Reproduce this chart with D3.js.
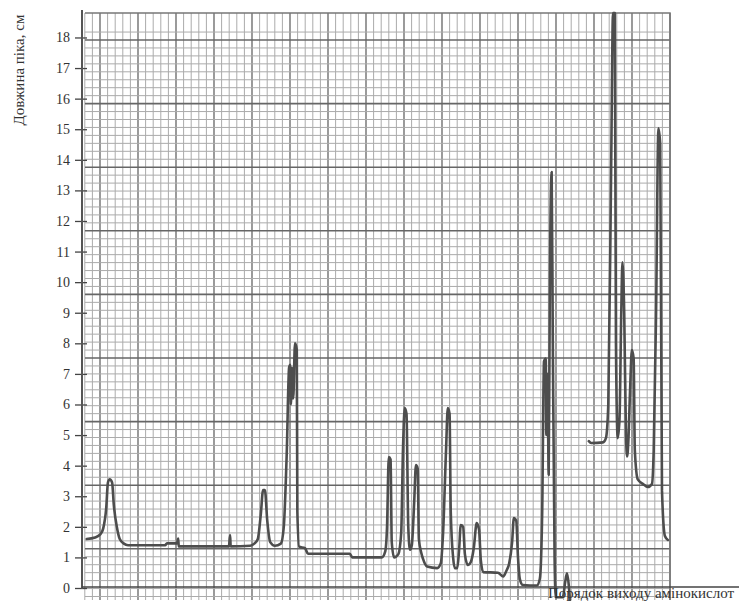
<!DOCTYPE html>
<html>
<head>
<meta charset="utf-8">
<script src="https://cdn.jsdelivr.net/npm/d3@7"></script>
<style>
	html, body { margin: 0; padding: 0; background: #fff; }
	svg { display: block; }
</style>
</head>
<body>
<div id="chart"></div>
<script>
// trace: x is position along the strip (0-100), y is peak height in cm
const traceOneX = [0.8, 2.2, 3.1, 3.6, 4.1, 4.4, 4.7, 5.1, 5.4, 5.9, 6.4, 7.1, 7.8, 14.1, 14.4, 16.1, 16.3, 16.4, 24.9, 25.1, 25.2, 28.5, 29.2, 29.8, 30.3, 30.7, 31.0, 31.4, 31.9, 32.7, 33.7, 34.2, 34.7, 35.1, 35.3, 35.4, 35.6, 35.8, 36.1, 36.4, 36.5, 36.8, 37.8, 38.3, 45.4, 45.8, 50.8, 51.4, 51.7, 52.0, 52.3, 52.5, 52.9, 53.6, 54.1, 54.4, 54.7, 55.0, 55.3, 55.6, 55.9, 56.3, 56.6, 56.9, 57.1, 57.5, 57.8, 58.5, 60.2, 60.8, 61.2, 61.7, 62.0, 62.3, 62.5, 62.9, 63.2, 63.6, 63.9, 64.2, 64.6, 64.9, 65.4, 65.9, 66.4, 66.9, 67.3, 67.6, 68.0, 70.5, 71.4, 71.9, 72.4, 72.9, 73.2, 73.6, 73.9, 74.2, 74.7, 77.1, 77.6, 78.0, 78.3, 78.6, 78.7, 78.9, 79.1, 79.3, 79.6, 79.8, 80.1, 80.3, 81.5, 81.9, 82.2, 82.5, 82.7];
const traceOneY = [1.6, 1.65, 1.75, 1.95, 2.6, 3.45, 3.55, 3.45, 2.7, 2.0, 1.6, 1.45, 1.4, 1.4, 1.46, 1.46, 1.62, 1.36, 1.36, 1.73, 1.36, 1.38, 1.45, 1.6, 2.4, 3.2, 3.2, 2.2, 1.5, 1.38, 1.45, 2.0, 4.4, 7.2, 7.3, 6.0, 7.2, 6.2, 8.0, 7.8, 2.5, 1.35, 1.3, 1.12, 1.12, 1.0, 1.0, 1.2, 2.0, 4.28, 4.2, 1.5, 1.0, 1.1, 1.8, 4.5, 5.88, 5.7, 2.0, 1.25, 1.4, 2.8, 4.02, 3.9, 1.6, 1.15, 0.95, 0.7, 0.65, 0.8, 1.8, 4.5, 5.88, 5.7, 2.5, 1.0, 0.65, 0.65, 1.2, 2.06, 2.0, 1.1, 0.75, 0.85, 1.3, 2.12, 1.9, 0.9, 0.52, 0.5, 0.38, 0.55, 0.8, 1.5, 2.29, 2.2, 1.0, 0.3, 0.1, 0.08, 0.3, 2.5, 7.4, 7.5, 5.0, 7.0, 3.7, 10.0, 13.6, 8.0, 1.0, -0.3, -0.3, 0.2, 0.48, 0.1, -0.4];

const traceTwoX = [85.9, 86.3, 88.3, 88.8, 89.2, 89.7, 90.0, 90.3, 90.5, 90.8, 91.1, 91.4, 91.6, 91.9, 92.2, 92.4, 92.6, 92.9, 93.2, 93.5, 93.7, 94.2, 95.1, 95.9, 96.6, 96.9, 97.3, 97.7, 98.0, 98.3, 98.8, 99.3];
const traceTwoY = [4.8, 4.74, 4.76, 4.9, 6.0, 14.0, 18.8, 18.8, 8.0, 4.9, 5.5, 9.0, 10.65, 9.0, 5.0, 4.3, 4.8, 6.5, 7.78, 7.5, 4.5, 3.55, 3.4, 3.3, 3.4, 4.5, 9.0, 15.03, 14.5, 3.2, 1.7, 1.57];

const yTicks = d3.range(0, 19);
const yTitle = 'Довжина піка, см';
const xTitle = 'Порядок виходу амінокислот';

// set the dimensions and margins of the graph
const margin = { top: 13, right: 67, bottom: 13, left: 82 },
	width = 739 - margin.left - margin.right,
	height = 601 - margin.top - margin.bottom;

const svg = d3
	.select('#chart')
	.append('svg')
	.attr('width', width + margin.left + margin.right)
	.attr('height', height + margin.top + margin.bottom)
	.append('g')
	.attr('transform', `translate(${margin.left},${margin.top})`);

const x = d3.scaleLinear().domain([0, 100]).range([0, width]);
const y = d3.scaleLinear().domain([0, 18.8]).range([height, 0]);

// chart paper behind the trace (its own ruling, not tied to the axis)
const paperLeft = 3,
	paperRight = 588,
	paperBottom = 587;
const vLines = d3.range(-2, 76).map((k) => ({ pos: 18 + 7.6 * k, major: k % 5 === 0 }));
const hLines = d3.range(-1, 71).map((k) => ({ pos: 27 + 7.95 * k, major: k % 8 === 0 }));

const paper = svg.append('g');
paper
	.selectAll('.v')
	.data(vLines)
	.join('line')
	.attr('x1', (d) => d.pos)
	.attr('x2', (d) => d.pos)
	.attr('y1', 0)
	.attr('y2', paperBottom)
	.style('stroke', (d) => (d.major ? '#707070' : '#ababab'))
	.style('stroke-width', (d) => (d.major ? 1.4 : 1));
paper
	.selectAll('.h')
	.data(hLines)
	.join('line')
	.attr('x1', paperLeft)
	.attr('x2', paperRight)
	.attr('y1', (d) => d.pos)
	.attr('y2', (d) => d.pos)
	.style('stroke', (d) => (d.major ? '#666' : '#ababab'))
	.style('stroke-width', (d) => (d.major ? 1.6 : 1));
paper
	.append('path')
	.attr('d', `M${paperLeft},0H${paperRight}V${paperBottom}`)
	.style('fill', 'none')
	.style('stroke', '#777')
	.style('stroke-width', 1.5);

// axes
const yAxis = svg
	.append('g')
	.call(d3.axisLeft(y).tickValues(yTicks).tickSize(7).tickSizeOuter(0).tickPadding(5));
yAxis.select('.domain').remove();
yAxis.selectAll('.tick line').attr('x2', 5).attr('x1', -7).style('stroke', '#444').style('stroke-width', 1.3);
yAxis
	.selectAll('.tick text')
	.attr('x', -12)
	.style('font-family', '"Liberation Serif", "Times New Roman", serif')
	.style('font-size', '14px')
	.style('fill', '#333');

svg
	.append('line')
	.attr('x1', 0)
	.attr('x2', 0)
	.attr('y1', -3)
	.attr('y2', y(0) + 1)
	.style('stroke', '#555')
	.style('stroke-width', 2);
svg
	.append('line')
	.attr('x1', 0)
	.attr('x2', width + margin.right)
	.attr('y1', y(0) - 1)
	.attr('y2', y(0) - 1)
	.style('stroke', '#444')
	.style('stroke-width', 1.6);

// the recorder trace
const line = d3
	.line()
	.x((d) => x(d[0]))
	.y((d) => y(d[1]))
	.curve(d3.curveMonotoneX);

[
	d3.zip(traceOneX, traceOneY),
	d3.zip(traceTwoX, traceTwoY),
].forEach((pts) => {
	svg
		.append('path')
		.datum(pts)
		.attr('d', line)
		.style('fill', 'none')
		.style('stroke', '#4d4d4d')
		.style('stroke-width', 2.6)
		.style('stroke-linejoin', 'round')
		.style('stroke-linecap', 'round');
});

// titles
svg
	.append('text')
	.attr('transform', `translate(${-58},${57}) rotate(-90)`)
	.attr('text-anchor', 'middle')
	.style('font-family', '"Liberation Serif", "Times New Roman", serif')
	.style('font-size', '15px')
	.style('fill', '#333')
	.text(yTitle);
svg
	.append('text')
	.attr('x', 548 - margin.left)
	.attr('y', 598 - margin.top)
	.style('font-family', '"Liberation Serif", "Times New Roman", serif')
	.style('font-size', '15px')
	.style('fill', '#333')
	.text(xTitle);
</script>
</body>
</html>
